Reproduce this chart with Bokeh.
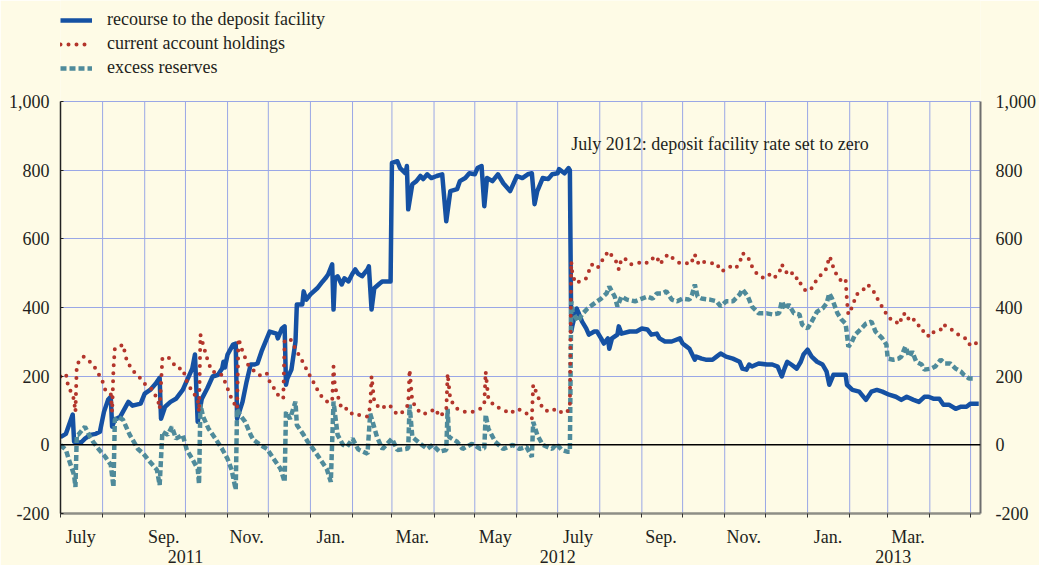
import pandas as pd
from bokeh.plotting import figure
from bokeh.models import (FixedTicker, LinearAxis, Legend, LegendItem, Label,
                          Span, NumeralTickFormatter, Range1d)
from bokeh.embed import file_html
from bokeh.resources import INLINE

# ---------------- data (days since 1 July 2011, EUR billions) ----------------
dep_days = [0, 4, 6, 9, 10, 15, 18, 22, 26, 29,
            32, 35, 37, 38, 40, 44, 50, 53, 59, 62,
            66, 70, 73, 74, 77, 81, 85, 90, 97, 99,
            101, 104, 108, 112, 116, 119, 120, 121, 123, 127,
            129, 130, 134, 137, 140, 143, 145, 148, 154, 159,
            160, 163, 165, 166, 167, 170, 173, 174, 178, 179,
            181, 184, 189, 193, 195, 197, 200, 201, 202, 204,
            207, 209, 212, 215, 217, 219, 222, 226, 227, 229,
            231, 235, 237, 242, 243, 244, 248, 250, 254, 255,
            256, 259, 262, 265, 267, 270, 273, 277, 281, 284,
            287, 292, 294, 298, 301, 305, 307, 310, 312, 314,
            318, 322, 326, 331, 336, 340, 344, 347, 349, 351,
            355, 359, 362, 366, 367, 371, 374, 375, 376, 377,
            380, 381, 384, 387, 389, 393, 395, 398, 400, 403,
            404, 406, 410, 411, 413, 419, 424, 428, 432, 435,
            439, 441, 445, 447, 450, 456, 458, 461, 463, 467,
            468, 472, 475, 480, 483, 486, 490, 495, 500, 502,
            505, 507, 509, 514, 520, 524, 528, 531, 533, 535,
            538, 542, 545, 547, 550, 553, 557, 561, 564, 566,
            569, 573, 578, 579, 583, 588, 593, 597, 601, 605,
            610, 615, 619, 623, 628, 632, 636, 639, 643, 647,
            650, 654, 659, 663, 667, 670, 674, 676]
dep_vals = [23, 32, 55, 88, 9, 6, 18, 29, 32, 38,
            96, 131, 140, 53, 73, 82, 125, 114, 120, 149,
            160, 178, 195, 76, 111, 125, 134, 160, 222, 263,
            67, 134, 164, 199, 204, 222, 242, 225, 263, 292,
            295, 76, 125, 184, 234, 234, 237, 272, 330, 324,
            310, 339, 345, 175, 193, 219, 301, 409, 409, 447,
            423, 438, 456, 476, 485, 496, 526, 394, 485, 491,
            467, 485, 476, 499, 511, 499, 491, 511, 520, 394,
            456, 470, 476, 476, 476, 821, 826, 806, 791, 812,
            686, 759, 768, 783, 774, 788, 777, 783, 788, 651,
            739, 745, 768, 777, 791, 788, 806, 812, 695, 777,
            768, 788, 762, 739, 783, 777, 788, 791, 701, 739,
            777, 774, 788, 791, 803, 791, 806, 800, 330, 350,
            397, 388, 359, 339, 321, 330, 330, 310, 295, 310,
            280, 310, 321, 345, 324, 330, 330, 339, 336, 321,
            324, 310, 301, 301, 301, 310, 295, 286, 280, 248,
            257, 251, 248, 248, 257, 266, 257, 251, 242, 222,
            219, 234, 228, 237, 234, 234, 228, 199, 222, 242,
            234, 222, 242, 263, 277, 257, 242, 234, 213, 175,
            204, 204, 204, 175, 160, 155, 131, 155, 160, 155,
            146, 140, 131, 140, 131, 125, 140, 140, 134, 134,
            117, 117, 105, 111, 111, 120, 120, 120]

cah_days = [0, 4, 5, 6, 9, 10, 11, 12, 17, 24,
            28, 31, 33, 37, 38, 39, 40, 46, 49, 54,
            59, 62, 68, 72, 73, 75, 79, 82, 86, 90,
            93, 97, 101, 102, 103, 105, 109, 112, 118, 121,
            126, 130, 131, 134, 138, 143, 148, 152, 154, 158,
            160, 164, 165, 169, 174, 179, 182, 186, 191, 196,
            200, 201, 202, 207, 212, 215, 219, 226, 228, 229,
            231, 235, 242, 248, 252, 256, 257, 259, 265, 270,
            276, 279, 284, 285, 287, 292, 298, 303, 309, 312,
            313, 315, 320, 325, 331, 336, 342, 347, 348, 351,
            355, 360, 365, 370, 373, 375, 376, 377, 380, 384,
            387, 391, 395, 398, 400, 404, 406, 410, 411, 413,
            417, 420, 425, 430, 432, 436, 439, 441, 445, 447,
            452, 456, 461, 464, 467, 468, 470, 472, 479, 483,
            485, 487, 490, 494, 497, 500, 502, 506, 508, 513,
            518, 522, 525, 529, 531, 533, 535, 538, 540, 544,
            545, 549, 553, 556, 560, 564, 566, 568, 569, 572,
            575, 578, 579, 580, 583, 586, 590, 594, 597, 600,
            603, 606, 608, 610, 614, 617, 621, 623, 627, 630,
            634, 636, 641, 643, 648, 649, 653, 656, 660, 663,
            666, 669, 671, 676]
cah_vals = [199, 207, 184, 164, 149, 126, 96, 234, 257, 234,
            207, 184, 160, 149, 96, 222, 280, 292, 242, 213,
            193, 178, 160, 126, 105, 251, 257, 242, 222, 222,
            184, 155, 134, 96, 321, 292, 237, 213, 207, 184,
            134, 105, 310, 272, 234, 213, 199, 207, 184, 160,
            146, 134, 301, 310, 272, 237, 213, 184, 146, 126,
            126, 228, 170, 105, 105, 88, 88, 82, 110, 199,
            126, 105, 117, 88, 96, 117, 219, 126, 91, 91,
            105, 82, 100, 207, 131, 105, 96, 96, 105, 120,
            213, 134, 111, 105, 91, 105, 96, 76, 175, 146,
            105, 96, 105, 91, 96, 110, 534, 491, 470, 482,
            485, 526, 514, 529, 549, 564, 549, 529, 511, 543,
            540, 526, 529, 534, 529, 543, 549, 526, 543, 555,
            540, 529, 529, 526, 555, 540, 526, 534, 529, 529,
            514, 505, 514, 520, 514, 529, 558, 549, 526, 496,
            485, 496, 485, 499, 526, 511, 499, 505, 485, 485,
            467, 447, 456, 476, 496, 514, 549, 534, 514, 491,
            476, 482, 418, 380, 403, 438, 447, 467, 456, 438,
            412, 397, 380, 368, 365, 350, 383, 365, 374, 350,
            345, 321, 315, 330, 336, 350, 345, 336, 324, 315,
            310, 292, 301, 292]

exr_days = [0, 4, 6, 10, 11, 12, 13, 18, 21, 24,
            28, 33, 37, 39, 40, 42, 46, 51, 57, 61,
            66, 71, 73, 75, 79, 82, 85, 90, 93, 97,
            101, 102, 103, 105, 109, 114, 119, 123, 126, 129,
            130, 132, 136, 140, 142, 147, 152, 157, 162, 165,
            166, 169, 173, 174, 179, 182, 186, 191, 196, 199,
            201, 204, 208, 211, 215, 219, 220, 226, 228, 233,
            237, 244, 248, 254, 256, 257, 259, 265, 270, 274,
            279, 284, 285, 286, 292, 296, 303, 309, 312, 313,
            315, 320, 326, 333, 338, 343, 347, 348, 351, 355,
            362, 365, 369, 373, 375, 376, 377, 381, 384, 388,
            392, 398, 402, 404, 408, 410, 413, 417, 423, 428,
            432, 436, 439, 443, 446, 450, 454, 458, 463, 465,
            467, 469, 472, 478, 483, 486, 490, 495, 500, 502,
            506, 509, 514, 520, 524, 529, 531, 534, 536, 540,
            544, 546, 550, 553, 557, 561, 564, 566, 568, 572,
            575, 578, 579, 580, 582, 585, 589, 593, 597, 600,
            605, 608, 609, 613, 617, 619, 622, 625, 627, 630,
            634, 636, 641, 644, 648, 651, 655, 659, 663, 665,
            669, 672]
exr_vals = [0, -15, -41, -88, -123, 29, 29, 53, 29, 9,
            -12, -35, -58, -123, 73, 82, 73, 29, -12, -26,
            -50, -73, -117, 38, 29, 53, 18, 29, -15, -41,
            -70, -114, 117, 82, 47, 18, -12, -41, -73, -131,
            105, 88, 67, 29, 15, 0, -12, -41, -70, -108,
            96, 76, 126, 58, 29, 9, -12, -41, -70, -108,
            126, 29, 0, -5, 18, -12, -15, -26, 91, 23,
            -12, 18, -15, -12, -10, 117, 23, 3, -12, 0,
            -20, -15, 105, 23, 9, -12, 3, -12, -10, 88,
            47, 9, -12, 0, -12, -6, -35, 67, 29, 0,
            -12, 3, -15, -20, -20, 418, 388, 359, 380, 397,
            409, 426, 441, 461, 432, 403, 432, 423, 418, 426,
            432, 426, 441, 441, 447, 423, 418, 426, 423, 438,
            467, 432, 426, 423, 418, 403, 418, 418, 438, 453,
            432, 403, 383, 383, 380, 383, 418, 394, 409, 383,
            380, 350, 339, 359, 388, 397, 412, 441, 426, 383,
            365, 353, 321, 286, 295, 321, 336, 353, 359, 330,
            310, 292, 251, 248, 251, 257, 286, 257, 272, 242,
            234, 219, 222, 228, 248, 237, 237, 222, 213, 204,
            193, 193]

series_names = ["recourse to the deposit facility", "current account holdings", "excess reserves"]
month_label_dates = ["2011-07-16", "2011-09-15", "2011-11-15", "2012-01-16", "2012-03-16",
                     "2012-05-16", "2012-07-16", "2012-09-15", "2012-11-15", "2013-01-16",
                     "2013-03-16"]
month_labels = ["July", "Sep.", "Nov.", "Jan.", "Mar.", "May", "July", "Sep.", "Nov.", "Jan.", "Mar."]
year_label_dates = ["2011-10-01", "2012-07-01", "2013-03-05"]
year_labels = ["2011", "2012", "2013"]
y_ticks = [-200, 0, 200, 400, 600, 800, 1000]
note_text = "July 2012: deposit facility rate set to zero"

assert len(dep_days) == len(dep_vals)
assert len(cah_days) == len(cah_vals)
assert len(exr_days) == len(exr_vals)

# ---------------- helpers ----------------
DAY = 86400000
base = pd.Timestamp("2011-07-01")


def tms(ts):
    return int(pd.Timestamp(ts).value // 10**6)


base_ms = tms(base)


def days_to_ms(days):
    return [base_ms + d * DAY for d in days]


month_starts = [tms(t) for t in pd.date_range("2011-07-01", "2013-05-01", freq="MS")]
label_ticks = [tms(d) for d in month_label_dates]
year_ticks = [tms(d) for d in year_label_dates]

FONT = "Liberation Serif"
FS = "18px"
TXT = "#231F20"
BG = "#FEFBE6"
GRID = "#9AA7E6"
BLUE = "#1551A3"
RED = "#B3352B"
TEAL = "#4F8B9B"

x0 = base_ms
x1 = base_ms + int(677.3 * DAY)
Y_MIN, Y_MAX = -200, 1000
# frame reaches the top of the canvas so the legend (above the data area) is visible
PX_PER_UNIT = 412.0 / (Y_MAX - Y_MIN)
y_top = Y_MAX + 101 / PX_PER_UNIT

p = figure(width=1039, height=565, output_backend="svg", toolbar_location=None, title=None,
           x_range=Range1d(x0, x1), y_range=Range1d(Y_MIN, y_top),
           min_border_left=60, min_border_right=57, min_border_top=0, min_border_bottom=52)
p.background_fill_color = BG
p.border_fill_color = BG
p.outline_line_color = None

# grids: horizontal via grid, vertical month lines limited to the data area
p.xgrid.visible = False
p.ygrid.ticker = FixedTicker(ticks=y_ticks)
p.ygrid.grid_line_color = GRID
p.ygrid.grid_line_width = 1
p.segment(x0=month_starts, y0=[Y_MIN] * len(month_starts), x1=month_starts,
          y1=[Y_MAX] * len(month_starts), line_color=GRID, line_width=1)

# x axis (month labels)
xa = p.xaxis[0]
xa.ticker = FixedTicker(ticks=label_ticks, minor_ticks=month_starts)
xa.major_label_overrides = {t: l for t, l in zip(label_ticks, month_labels)}
xa.major_tick_line_color = None
xa.major_tick_out = 0
xa.major_tick_in = 0
xa.minor_tick_out = 4
xa.minor_tick_in = 0
xa.minor_tick_line_color = "#333333"
xa.axis_line_color = "#8E8E86"
xa.axis_line_width = 2.5
xa.major_label_standoff = 9
xa.major_label_text_font = FONT
xa.major_label_text_font_size = FS
xa.major_label_text_color = TXT

# second x axis (years)
xy = LinearAxis(ticker=FixedTicker(ticks=year_ticks))
xy.major_label_overrides = {t: l for t, l in zip(year_ticks, year_labels)}
xy.axis_line_color = None
xy.major_tick_line_color = None
xy.minor_tick_line_color = None
xy.major_tick_out = 0
xy.major_tick_in = 0
xy.major_label_standoff = 0
xy.major_label_text_font = FONT
xy.major_label_text_font_size = FS
xy.major_label_text_color = TXT
p.add_layout(xy, "below")

# y axes
ya = p.yaxis[0]
ya.ticker = FixedTicker(ticks=y_ticks)
ya.bounds = (Y_MIN, Y_MAX)
ya.formatter = NumeralTickFormatter(format="0,0")
ya.axis_line_color = "#222222"
ya.axis_line_width = 1.5
ya.major_tick_in = 3
ya.major_tick_out = 0
ya.major_tick_line_color = "#222222"
ya.minor_tick_line_color = None
ya.major_label_standoff = 11
ya.major_label_text_font = FONT
ya.major_label_text_font_size = FS
ya.major_label_text_color = TXT

yr = LinearAxis(ticker=FixedTicker(ticks=y_ticks), formatter=NumeralTickFormatter(format="0,0"),
                bounds=(Y_MIN, Y_MAX))
yr.axis_line_color = "#6E6E6E"
yr.axis_line_width = 2
yr.major_tick_in = 0
yr.major_tick_out = 0
yr.minor_tick_line_color = None
yr.major_label_standoff = 15
yr.major_label_text_font = FONT
yr.major_label_text_font_size = FS
yr.major_label_text_color = TXT
p.add_layout(yr, "right")

# zero line
p.add_layout(Span(location=0, dimension="width", line_color="black", line_width=1.5))

# series
r_dep = p.line(days_to_ms(dep_days), dep_vals, line_color=BLUE, line_width=4.5, line_join="round")
r_exr = p.line(days_to_ms(exr_days), exr_vals, line_color=TEAL, line_width=4.5, line_dash="6 3")
r_cah = p.line(days_to_ms(cah_days), cah_vals, line_color=RED, line_width=4, line_dash="0 8",
               line_cap="round")

legend = Legend(items=[LegendItem(label=series_names[0], renderers=[r_dep]),
                       LegendItem(label=series_names[1], renderers=[r_cah]),
                       LegendItem(label=series_names[2], renderers=[r_exr])],
                location=(0, 435), glyph_width=32, glyph_height=20, label_height=20,
                label_standoff=15, spacing=3, padding=0, margin=0,
                border_line_color=None, background_fill_alpha=0,
                label_text_font=FONT, label_text_font_size=FS, label_text_color=TXT)
p.add_layout(legend, "center")

# annotation
p.add_layout(Label(x=tms("2012-07-11"), y=875, text=note_text, text_baseline="middle",
                   text_font=FONT, text_font_size=FS, text_color=TXT))

open("out.html", "w").write(file_html(p, INLINE))
